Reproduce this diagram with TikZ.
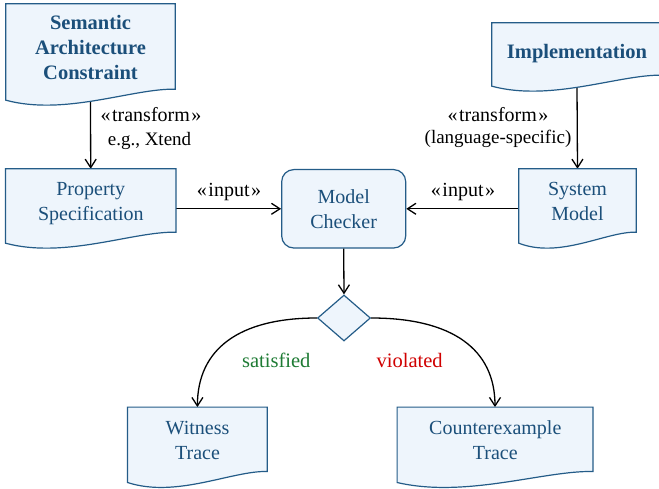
\documentclass[tikz,border=0pt]{standalone}
\usepackage{fontspec}
\setmainfont{Liberation Serif}
\usetikzlibrary{arrows.meta,shapes.geometric,calc}
\definecolor{boxfill}{HTML}{EEF5FC}
\definecolor{boxline}{HTML}{245C88}
\definecolor{boxtext}{HTML}{1B4F7A}
\definecolor{okgreen}{HTML}{1E7B34}
\definecolor{badred}{HTML}{D00000}
\newcommand\docoutline[1]{%
  \filldraw[docline] (#1.north west) -- (#1.north east) -- ($(#1.south east)+(0,-11)$)
    .. controls ($(#1.south west)!0.75!(#1.south east)+(0,-12)$) and ($(#1.south west)!0.35!(#1.south east)+(0,16)$) .. (#1.south west) -- cycle;}
\newcommand\stereo[1]{«\kern1.5pt#1\kern1.5pt»}
\tikzset{
  shapebox/.style={rectangle, draw=none, inner sep=0pt},
  docline/.style={draw=boxline, fill=boxfill, line width=1.2pt},
  doctext/.style={text=boxtext, align=center, font=\fontsize{20}{25}\selectfont},
  titletext/.style={text=boxtext, align=center, font=\fontsize{20.5}{25}\selectfont\bfseries},
  mcbox/.style={rectangle, rounded corners=12pt, draw=boxline, fill=boxfill, line width=1.2pt, inner sep=0pt, text=boxtext, align=center, font=\fontsize{20}{25}\selectfont},
  decbox/.style={diamond, draw=boxline, fill=boxfill, line width=1.2pt, inner sep=0pt},
  conn/.style={draw=black, line width=1.3pt, -{Straight Barb[length=8.5pt,width=11pt]}},
  lbl/.style={font=\fontsize{19}{24}\selectfont, anchor=base, inner sep=0pt},
  stlbl/.style={font=\fontsize{20}{24}\selectfont, anchor=base, inner sep=0pt},
}
\begin{document}
\begin{tikzpicture}[x=1pt, y=-1pt]
\fill[white] (0,0) rectangle (659,489);
\useasboundingbox (0,0) rectangle (659,489);
% shape anchors
\node[shapebox, minimum width=169pt, minimum height=96pt] (sac) at (90.5,52) {};
\node[shapebox, minimum width=170pt, minimum height=63pt] (impl) at (577,54.5) {};
\node[shapebox, minimum width=170pt, minimum height=74pt] (ps) at (90.7,206) {};
\node[mcbox, minimum width=124pt, minimum height=78.4pt] (mc) at (343.7,208.8) {Model\\Checker};
\node[shapebox, minimum width=117pt, minimum height=74pt] (sm) at (577.5,206) {};
\node[decbox, minimum width=53pt, minimum height=46pt] (dec) at (344,318) {};
\node[shapebox, minimum width=139.3pt, minimum height=75pt] (wt) at (197.4,444.8) {};
\node[shapebox, minimum width=195.4pt, minimum height=75pt] (ce) at (495,444.8) {};
% connectors
\draw[conn] (sac.south) -- (ps.north);
\draw[conn] (impl.south) -- (sm.north);
\draw[conn] (ps.east |- mc.west) -- (mc.west);
\draw[conn] (sm.west |- mc.east) -- (mc.east);
\draw[conn] (mc.south) -- (dec.north);
\draw[conn] (dec.west) .. controls +(-78,0) and +(0,-58) .. (wt.north);
\draw[conn] (dec.east) .. controls +(81,0) and +(0,-58) .. (ce.north);
% document outlines
\docoutline{sac}
\docoutline{impl}
\docoutline{ps}
\docoutline{sm}
\docoutline{wt}
\docoutline{ce}
% texts
\node[titletext] (sac-t) at (90.5,47.3) {Semantic\\Architecture\\Constraint};
\node[titletext] (impl-t) at (577,53.7) {Implementation};
\node[doctext] (ps-t) at (90.8,204) {Property\\Specification};
\node[doctext] (sm-t) at (577.5,201.6) {System\\Model};
\node[doctext] (wt-t) at (197.5,440.5) {Witness\\Trace};
\node[doctext] (ce-t) at (495.3,440.3) {Counterexample\\Trace};
% labels
\node[stlbl] (l1a) at (151,121.7) {\stereo{transform}};
\node[lbl] (l1b) at (149.5,145.5) {e.g., Xtend};
\node[stlbl] (l2a) at (498,121.7) {\stereo{transform}};
\node[lbl] (l2b) at (498,144) {(language-specific)};
\node[stlbl] (in1) at (229,196.7) {\stereo{input}};
\node[stlbl] (in2) at (463,196.7) {\stereo{input}};
\node[lbl, text=okgreen, font=\fontsize{20.5}{24}\selectfont] (sat) at (276.3,367.3) {satisfied};
\node[lbl, text=badred, font=\fontsize{20.5}{24}\selectfont] (vio) at (409.7,367.3) {violated};
\end{tikzpicture}
\end{document}
